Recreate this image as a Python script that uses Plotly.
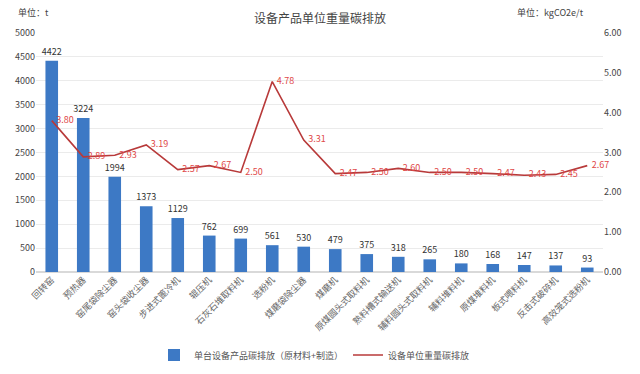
import plotly.graph_objects as go

categories = ["回转窑", "预热器", "窑尾袋除尘器", "窑头袋收尘器", "步进式篦冷机", "辊压机",
              "石灰石堆取料机", "选粉机", "煤磨袋除尘器", "煤磨机", "原煤圆头式取料机",
              "熟料槽式输送机", "辅料圆头式取料机", "辅料堆料机", "原煤堆料机", "板式喂料机",
              "反击式破碎机", "高效笼式选粉机"]
bar_values = [4422, 3224, 1994, 1373, 1129, 762, 699, 561, 530, 479, 375, 318, 265, 180, 168, 147, 137, 93]
line_values = [3.80, 2.89, 2.93, 3.19, 2.57, 2.67, 2.50, 4.78, 3.31, 2.47, 2.50, 2.60, 2.50, 2.50, 2.47, 2.43, 2.45, 2.67]
bar_name = "单台设备产品碳排放（原材料+制造）"
line_name = "设备单位重量碳排放"
y_ticks = [0, 500, 1000, 1500, 2000, 2500, 3000, 3500, 4000, 4500, 5000]
y2_ticks = [0, 1, 2, 3, 4, 5, 6]

FONT = "Noto Sans CJK SC"
L, R, T, B = 36, 37, 33, 102
W, H = 640, 374
PW, PH = W - L - R, H - T - B

fig = go.Figure()
fig.add_trace(go.Bar(
    x=categories, y=bar_values, name=bar_name,
    marker=dict(color="#3D79C5", line=dict(width=0)),
    text=[str(v) for v in bar_values], textposition="outside", constraintext="none",
    textfont=dict(size=9, color="#333333", family=FONT),
    cliponaxis=False,
))
fig.add_trace(go.Scatter(
    x=categories, y=line_values, name=line_name, yaxis="y2",
    mode="lines+text", line=dict(color="#B83A3A", width=1.6),
    text=[f"\u2002{v:.2f}" for v in line_values], textposition="middle right",
    textfont=dict(size=9, color="#E04848", family=FONT),
    cliponaxis=False,
))


def px_x(x):
    return (x - L) / PW


def px_y(y):
    return (H - B - y) / PH


fig.update_layout(
    width=W, height=H,
    margin=dict(l=L, r=R, t=T, b=B, autoexpand=False),
    paper_bgcolor="white", plot_bgcolor="white",
    font=dict(family=FONT, size=9, color="#444444"),
    bargap=0.6,
    showlegend=True,
    legend=dict(orientation="h", x=px_x(154), xanchor="left", y=px_y(355), yanchor="middle",
                font=dict(size=9, color="#555555"), itemwidth=30, tracegroupgap=0),
    xaxis=dict(tickangle=-45, tickfont=dict(size=9, color="#666666"), showline=False,
               showgrid=False, ticks="", range=[-0.5, len(categories) - 0.5]),
    yaxis=dict(range=[0, 5000], tickvals=y_ticks, showgrid=True, gridcolor="#EBEBEB",
               zeroline=True, zerolinecolor="#D9D9D9", tickfont=dict(size=9, color="#444444")),
    yaxis2=dict(range=[0, 6], tickvals=y2_ticks, tickformat=".2f", overlaying="y", side="right",
                showgrid=False, zeroline=False, tickfont=dict(size=9, color="#444444")),
    annotations=[
        dict(text="设备产品单位重量碳排放", x=0.5, xref="paper", y=px_y(17), yref="paper",
             showarrow=False, xanchor="center", yanchor="middle",
             font=dict(size=12, color="#444444", family=FONT)),
        dict(text="单位：t", x=px_x(16), xref="paper", y=px_y(12), yref="paper", showarrow=False,
             font=dict(size=9, color="#444444"), xanchor="left", yanchor="middle"),
        dict(text="单位：kgCO2e/t", x=px_x(515), xref="paper", y=px_y(12), yref="paper",
             showarrow=False, font=dict(size=9, color="#444444"), xanchor="left", yanchor="middle"),
    ],
)

fig.write_html("out.html", config={"displayModeBar": False},
               post_script="document.body.style.margin='0';document.body.style.overflow='hidden';")
